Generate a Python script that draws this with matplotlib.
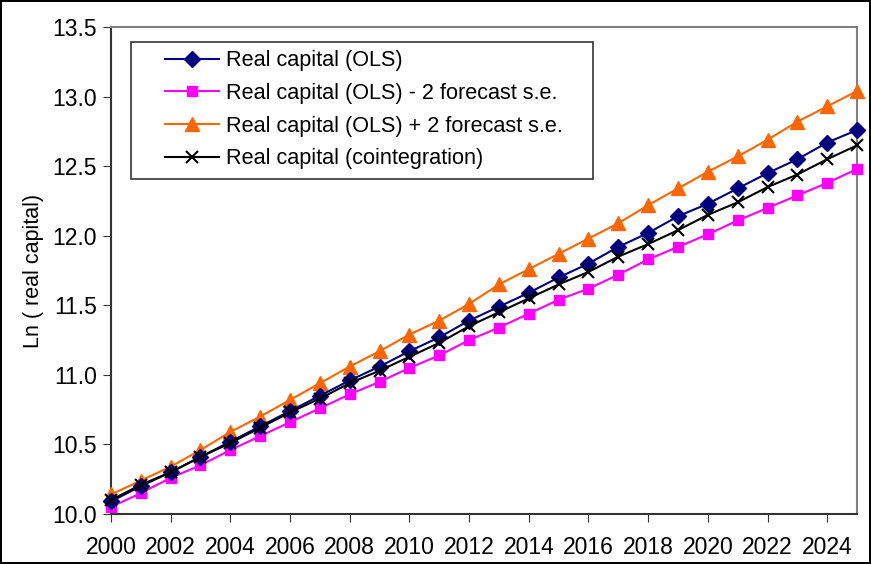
import matplotlib.pyplot as plt
from matplotlib.patches import Rectangle
import numpy as np

plt.rcParams['font.family'] = ['Liberation Sans', 'DejaVu Sans']

# Data
years = np.arange(2000, 2026)
ols = [10.09, 10.20, 10.30, 10.41, 10.52, 10.63, 10.74, 10.85, 10.96, 11.06,
       11.17, 11.27, 11.39, 11.49, 11.59, 11.70, 11.80, 11.92, 12.02, 12.14,
       12.23, 12.34, 12.45, 12.55, 12.67, 12.76]
ols_lower = [10.05, 10.15, 10.26, 10.35, 10.46, 10.56, 10.66, 10.76, 10.86, 10.95,
             11.05, 11.14, 11.25, 11.34, 11.44, 11.54, 11.62, 11.72, 11.83, 11.92,
             12.01, 12.11, 12.20, 12.29, 12.38, 12.48]
ols_upper = [10.14, 10.24, 10.34, 10.46, 10.59, 10.70, 10.82, 10.94, 11.06, 11.17,
             11.29, 11.39, 11.51, 11.65, 11.76, 11.87, 11.98, 12.09, 12.22, 12.34,
             12.46, 12.57, 12.69, 12.82, 12.93, 13.04]
coint = [10.10, 10.21, 10.30, 10.41, 10.51, 10.62, 10.73, 10.83, 10.94, 11.03,
         11.13, 11.23, 11.35, 11.45, 11.55, 11.65, 11.74, 11.85, 11.94, 12.04,
         12.15, 12.24, 12.35, 12.44, 12.55, 12.65]

fig = plt.figure(figsize=(8.71, 5.64), dpi=100)
fig.patch.set_edgecolor('black')
fig.patch.set_linewidth(1.5)
ax = fig.add_axes([0.1274, 0.0887, 0.8566, 0.8633])

ax.plot(years, ols, color='#000080', marker='D', markersize=8.5, lw=1.5,
        label='Real capital (OLS)', clip_on=False, zorder=4)
ax.plot(years, ols_lower, color='#FF00FF', marker='s', markersize=7.5, lw=1.5,
        label='Real capital (OLS) - 2 forecast s.e.', clip_on=False, zorder=3)
ax.plot(years, ols_upper, color='#FF6600', marker='^', markersize=9.5, lw=1.5,
        label='Real capital (OLS) + 2 forecast s.e.', clip_on=False, zorder=3)
ax.plot(years, coint, color='black', marker='x', markersize=9, mew=1.5, lw=1.5,
        label='Real capital (cointegration)', clip_on=False, zorder=5)

ax.set_xlim(2000, 2025)
ax.set_ylim(10.0, 13.5)
ax.set_xticks(np.arange(2000, 2025, 2))
ax.set_yticks(np.arange(10.0, 13.51, 0.5))
ax.set_yticklabels([f'{v:.1f}' for v in np.arange(10.0, 13.51, 0.5)])
ax.tick_params(direction='out', length=6, labelsize=16.5, color='#333333')
ax.tick_params(axis='x', pad=10)
ax.tick_params(axis='y', pad=4)
ax.set_ylabel('Ln ( real capital)', fontsize=15.5, labelpad=6)

for s in ['left', 'bottom']:
    ax.spines[s].set_color('#333333')
    ax.spines[s].set_linewidth(1.5)
for s in ['top', 'right']:
    ax.spines[s].set_color('#808080')
    ax.spines[s].set_linewidth(1.5)

# legend without frame, then a box drawn around it with wide side padding
leg = ax.legend(loc='upper left', bbox_to_anchor=(0.0724, 0.952), fontsize=15.6,
                frameon=False, handlelength=2.49, labelspacing=0.535,
                borderpad=0.0, borderaxespad=0, handletextpad=0.32)
leg.set_zorder(10)
fig.canvas.draw()
bb = leg.get_window_extent().transformed(fig.transFigure.inverted())
pl, pr = 34 / 871, 30 / 871
pt, pb = 8 / 564, 10 / 564
box = Rectangle((bb.x0 - pl, bb.y0 - pb), bb.width + pl + pr, bb.height + pt + pb,
                transform=fig.transFigure, facecolor='white', edgecolor='#333333',
                lw=1.2, zorder=9)
ax.add_patch(box)
box.set_clip_on(False)

plt.savefig('out.png', dpi=100)
